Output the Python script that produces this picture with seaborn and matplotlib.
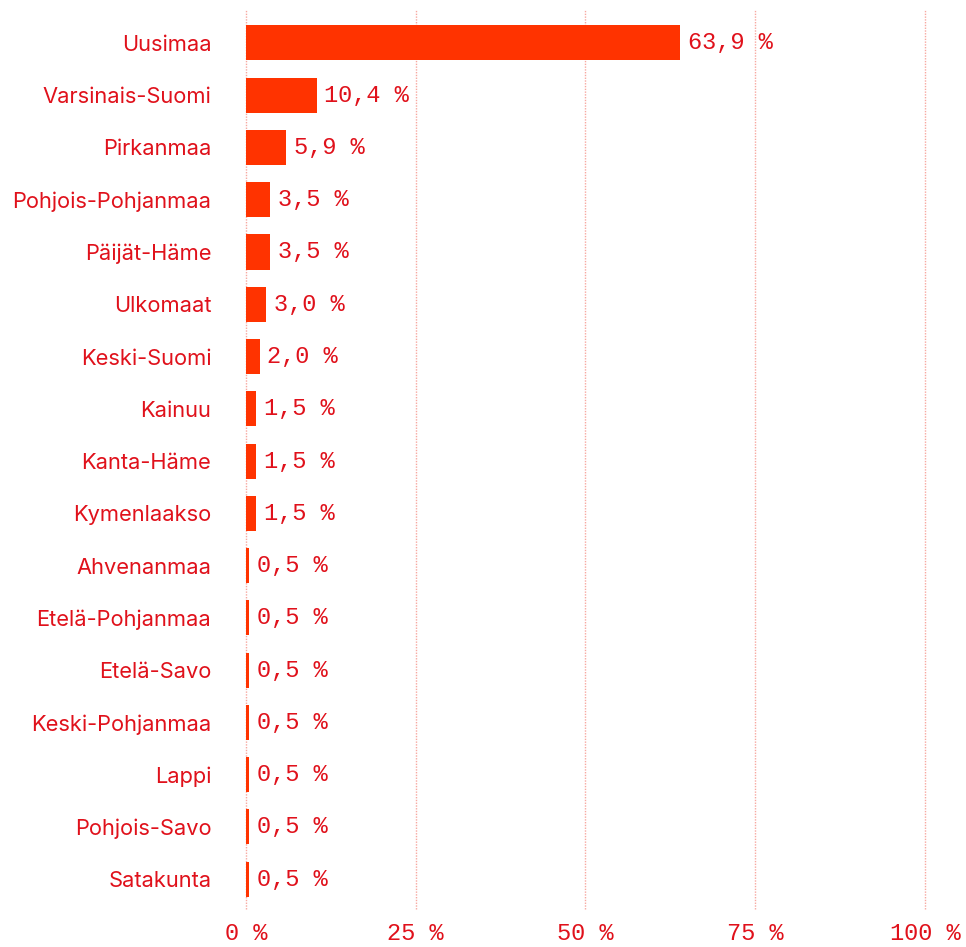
import pandas as pd
import seaborn as sns
import matplotlib.pyplot as plt

# Share of respondents by region (%)
regions = ['Uusimaa', 'Varsinais-Suomi', 'Pirkanmaa', 'Pohjois-Pohjanmaa', 'Päijät-Häme',
           'Ulkomaat', 'Keski-Suomi', 'Kainuu', 'Kanta-Häme', 'Kymenlaakso', 'Ahvenanmaa',
           'Etelä-Pohjanmaa', 'Etelä-Savo', 'Keski-Pohjanmaa', 'Lappi', 'Pohjois-Savo', 'Satakunta']
shares = [63.9, 10.4, 5.9, 3.5, 3.5, 3.0, 2.0, 1.5, 1.5, 1.5, 0.5, 0.5, 0.5, 0.5, 0.5, 0.5, 0.5]
ticks = [0, 25, 50, 75, 100]

df = pd.DataFrame({'region': regions, 'share': shares})

bar_color = '#FF3300'
text_color = '#E0111B'
grid_color = '#F7A8A0'
mono = ['Liberation Mono', 'DejaVu Sans Mono']

sns.set_theme(style='white')
plt.rcParams['font.family'] = ['Inter', 'DejaVu Sans']

fig = plt.figure(figsize=(9.66, 9.47), dpi=100)
ax = fig.add_axes([246 / 966, 1 - 909 / 947, (925 - 246) / 966, (909 - 10) / 947])

# dotted vertical grid
for t in ticks:
    ax.axvline(t, color=grid_color, lw=1, ls=(0, (1, 1)), zorder=0, clip_on=False)

sns.barplot(data=df, x='share', y='region', orient='h', color=bar_color,
            saturation=1, width=0.67, linewidth=0, ax=ax, zorder=2)

for i, v in enumerate(shares):
    ax.text(v + 1.15, i, f'{v:.1f} %'.replace('.', ','), va='center', ha='left',
            fontsize=17, color=text_color, family=mono)

ax.set_xlim(0, 100)
ax.set_ylim(16.57, -0.63)
ax.set_xticks(ticks)
ax.set_xticklabels([f'{t} %' for t in ticks], family=mono,
                   fontsize=17, color=text_color)
ax.tick_params(axis='x', length=0, pad=9)
ax.tick_params(axis='y', length=0, pad=25, labelsize=15.75, labelcolor=text_color)
ax.set_xlabel('')
ax.set_ylabel('')
for s in ax.spines.values():
    s.set_visible(False)

plt.savefig('out.png', dpi=100)
